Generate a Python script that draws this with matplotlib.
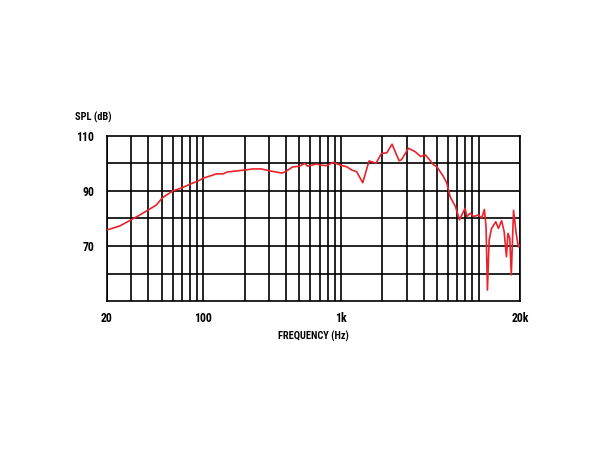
import numpy as np
import matplotlib.pyplot as plt
from matplotlib import font_manager
from matplotlib.ticker import FixedLocator, NullFormatter

# frequency response
freq = [20, 24.9, 30, 34.8, 40, 45.8, 50.6, 60.2, 70, 80.8, 91.7, 101, 125, 139, 150,
        200, 230, 264, 305, 372, 393, 445, 500, 545, 573, 667, 710, 786, 880, 1000,
        1100, 1200, 1300, 1440, 1600, 1800, 1975, 2150, 2350, 2640, 2750, 3090, 3450,
        3790, 4100, 4400, 4700, 4970, 5550, 5870, 6200, 6780, 7250, 7540, 7960, 8200,
        8680, 9170, 9950, 10500, 11000, 11300, 11570, 11900, 12400, 13300, 13900,
        14650, 15300, 15900, 16300, 16800, 17230, 17900, 18700, 19400, 20000]
spl = [75.8, 77.3, 79.5, 81.3, 83.1, 84.9, 87.5, 90.0, 91.1, 92.5, 93.6, 94.7, 96.2, 96.2, 96.9,
       97.6, 98.0, 98.0, 97.3, 96.5, 96.9, 98.7, 99.0, 100.0, 99.0, 99.8, 99.4, 99.2, 100.4, 99.3,
       98.8, 97.6, 97.0, 93.0, 100.9, 100.1, 103.7, 103.8, 107.0, 101.0, 101.3, 105.5, 104.3,
       102.5, 103.1, 101.3, 99.5, 98.8, 95.2, 92.8, 87.9, 84.3, 79.5, 81.3, 83.7, 80.7,
       81.9, 80.7, 81.3, 80.1, 83.3, 77.0, 54.0, 72.2, 76.4, 78.8, 76.4,
       79.2, 75.2, 66.1, 74.6, 72.8, 59.5, 83.0, 74.6, 69.7, 70.4]

grid_freqs = [20, 30, 40, 50, 60, 70, 80, 90, 100, 200, 300, 400, 500, 600, 700, 800, 900,
              1000, 2000, 3000, 4000, 5000, 6000, 7000, 8000, 9000, 10000, 20000]
x_ticks = [20, 100, 1000, 20000]
x_labels = ['20', '100', '1k', '20k']
y_ticks = [110, 90, 70]

# condensed bold face if there is one
names = {f.name for f in font_manager.fontManager.ttflist}
narrow = [n for n in ['Liberation Sans Narrow', 'DejaVu Sans Condensed', 'Roboto Condensed',
                      'Open Sans Condensed'] if n in names]
print(sorted(names))
fam = narrow + ['DejaVu Sans']
kw = dict(fontfamily=fam, fontweight='bold', fontstretch='condensed')

fig = plt.figure(figsize=(6, 4.5), dpi=100)
ax = fig.add_axes([0.178, 0.331, 0.689, 0.367])
ax.set_xscale('log')
ax.set_xlim(20, 20000)
ax.set_ylim(50, 110)

for f in grid_freqs:
    ax.axvline(f, color='black', lw=1.2, zorder=1)
for y in range(60, 110, 10):
    ax.axhline(y, color='black', lw=1.2, zorder=1)

ax.plot(freq, spl, color='#e8232b', lw=1.2, zorder=3)

ax.xaxis.set_major_locator(FixedLocator(x_ticks))
ax.xaxis.set_minor_formatter(NullFormatter())
ax.xaxis.set_minor_locator(FixedLocator([]))
ax.set_xticklabels(x_labels, fontsize=8.5, **kw)
ax.set_yticks(y_ticks)
ax.set_yticklabels([str(v) for v in y_ticks], fontsize=8.5, **kw)
ax.tick_params(length=0)
ax.tick_params(axis='y', pad=9)
ax.tick_params(axis='x', pad=8)

for s in ax.spines.values():
    s.set_linewidth(1.2)

ax.set_xlabel('FREQUENCY (Hz)', fontsize=7.5, labelpad=4, **kw)
ax.text(-0.077, 1.11, 'SPL (dB)', transform=ax.transAxes, fontsize=7.5,
        ha='left', va='center', **kw)

fig.savefig('out.png', dpi=100)
